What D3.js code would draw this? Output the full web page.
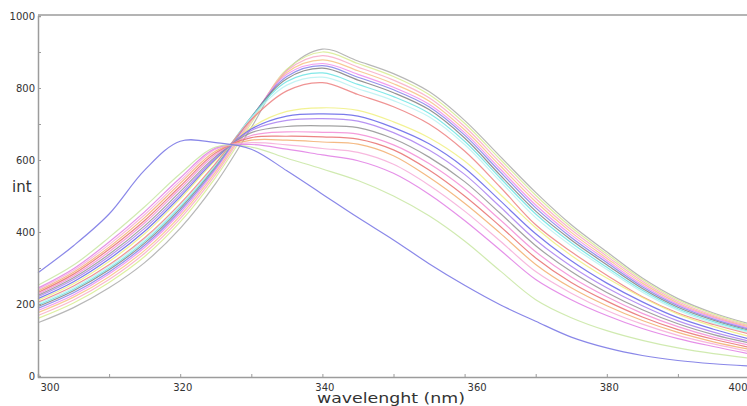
<!DOCTYPE html>
<html>
<head>
<meta charset="utf-8">
<script src="https://cdnjs.cloudflare.com/ajax/libs/d3/7.8.5/d3.min.js"></script>
<style>
  body { margin: 0; background: #fff; }
  svg { display: block; }
  .tick text { font-family: "DejaVu Sans", Verdana, sans-serif; font-size: 10px; fill: #333; }
  .axisText { font-family: "DejaVu Sans", Verdana, sans-serif; fill: #333; }
</style>
</head>
<body>
<div id="chart"></div>
<script>
// wavelengths (nm) sampled every 5 nm
var wavelengths = [300, 305, 310, 315, 320, 325, 330, 335, 340, 345, 350,
                   355, 360, 365, 370, 375, 380, 385, 390, 395, 400];

// intensity spectra, highest peak first
var sGray    = [148,190,245,315,410,535,690,850,908,875,840,790,710,610,510,420,345,272,215,175,145];
var sLime    = [160,203,260,332,428,552,702,852,900,868,832,782,702,602,502,413,339,268,211,172,142];
var sPink    = [168,211,268,341,437,560,708,848,890,858,822,773,693,593,493,406,333,263,207,168,139];
var sOrange  = [176,219,276,349,445,567,712,843,878,848,812,764,684,584,484,399,327,258,203,165,136];
var sMagenta = [182,225,283,357,452,573,716,838,868,838,802,755,676,575,475,392,321,253,199,162,133];
var sViolet  = [188,231,289,363,459,578,718,832,862,830,795,748,669,567,467,385,315,248,195,158,130];
var sDark    = [193,237,295,369,465,583,720,826,855,822,787,740,661,558,458,378,309,243,191,155,127];
var sCyan    = [197,241,299,374,470,586,719,818,842,810,776,730,652,550,450,370,302,238,187,151,124];
var sAqua    = [201,245,304,379,474,588,717,808,830,798,765,720,643,541,440,362,296,233,183,147,121];
var sRed     = [205,250,309,384,479,591,712,792,815,782,748,700,625,525,420,345,280,220,175,143,117];
var sYellow  = [210,256,318,395,492,600,690,735,745,738,706,662,597,505,412,335,272,218,172,138,110];
var sBlue    = [215,262,325,402,498,603,686,722,728,722,690,645,578,487,395,320,258,206,162,130,103];
var sPurple  = [220,268,332,410,505,607,682,710,715,708,676,628,560,470,378,305,245,195,153,122,97];
var sGray2   = [224,273,338,417,512,610,676,693,695,690,659,608,540,452,362,290,232,184,145,115,92];
var sPink2   = [228,278,345,425,520,615,668,678,677,672,642,590,520,434,345,275,220,174,137,108,86];
var sRed2    = [232,283,352,432,527,620,662,666,664,658,628,572,500,416,328,260,208,164,129,102,80];
var sOrange2 = [236,288,358,440,535,625,655,655,650,644,612,552,480,397,310,245,195,154,121,95,74];
var sRose    = [240,293,365,448,542,630,648,642,632,621,588,530,458,375,290,230,182,144,113,89,68];
var sOrchid  = [244,298,372,456,550,633,643,630,614,598,563,505,432,350,268,212,168,132,104,82,62];
var sGreen   = [252,308,385,470,562,636,636,605,575,543,500,445,375,292,212,162,126,99,78,62,50];
var sIndigo  = [287,362,450,572,652,648,630,570,505,440,378,312,252,198,152,108,78,57,43,34,28];

var series = [sGray, sLime, sPink, sOrange, sMagenta, sViolet, sDark, sCyan, sAqua, sRed,
              sYellow, sBlue, sPurple, sGray2, sPink2, sRed2, sOrange2, sRose, sOrchid, sGreen, sIndigo];

var colors = ["#aaaaaa", "#d8ec90", "#f8aac6", "#f6c284", "#f08cec", "#8280ea", "#808080",
              "#6ce4e4", "#b8f2f2", "#ec8080", "#f0f080", "#6464e8", "#aa80f0", "#929292",
              "#f28cd6", "#e86e6e", "#f2ae6e", "#f6acd8", "#e07ce4", "#c8e6a2", "#7472e4"];

var yTicks = [0, 100, 200, 300, 400, 500, 600, 700, 800, 900, 1000];
var xTicks = [300, 310, 320, 330, 340, 350, 360, 370, 380, 390, 400];

var svgWidth = 747;
var svgHeight = 406;

var svg = d3.select("#chart")
  .append("svg")
  .attr("width", svgWidth)
  .attr("height", svgHeight);

// scales
var xScale = d3.scaleLinear().domain([300, 400]).range([38, 749]);
var yScale = d3.scaleLinear().domain([0, 1000]).range([376, 16]);

// top frame line
svg.append("line")
  .attr("x1", 38).attr("x2", svgWidth)
  .attr("y1", 15).attr("y2", 15)
  .attr("stroke", "#b4b4b4")
  .attr("stroke-width", 2);

// spectra
var line = d3.line()
  .x(function(d, i) { return xScale(wavelengths[i]); })
  .y(function(d) { return yScale(d); })
  .curve(d3.curveCatmullRom);

svg.selectAll(".spectrum")
  .data(series)
  .enter()
  .append("path")
  .attr("class", "spectrum")
  .attr("d", line)
  .attr("fill", "none")
  .attr("stroke", function(d, i) { return colors[i]; })
  .attr("stroke-width", 1.2)
  .attr("opacity", 0.85);

// y axis
var yAxis = d3.axisLeft(yScale)
  .tickValues(yTicks)
  .tickSize(-3)
  .tickPadding(3)
  .tickFormat(function(d) { return d % 200 === 0 ? d : ""; });

var yG = svg.append("g")
  .attr("transform", "translate(38,0)")
  .call(yAxis);

// x axis
var xAxis = d3.axisBottom(xScale)
  .tickValues(xTicks)
  .tickSize(-3)
  .tickPadding(7)
  .tickFormat(function(d) { return d % 20 === 0 ? d : ""; });

var xG = svg.append("g")
  .attr("transform", "translate(0,377)")
  .call(xAxis);

[yG, xG].forEach(function(g) {
  g.select(".domain").attr("stroke", "#9c9c9c").attr("stroke-width", 1.5);
  g.selectAll(".tick line").attr("stroke", "#9c9c9c");
});

// nudge a few x labels like the original
xG.selectAll(".tick text")
  .attr("text-anchor", function(d) { return d === 300 ? "start" : (d === 400 ? "end" : "middle"); })
  .attr("dx", function(d) { return d === 360 ? 12 : (d === 400 ? -2 : 2); });

// axis labels
svg.append("text")
  .attr("class", "axisText")
  .attr("x", 12)
  .attr("y", 192)
  .attr("font-size", "15px")
  .text("int");

svg.append("text")
  .attr("class", "axisText")
  .attr("x", 317)
  .attr("y", 403)
  .attr("font-size", "14px")
  .attr("textLength", 148)
  .attr("lengthAdjust", "spacingAndGlyphs")
  .text("wavelenght (nm)");
</script>
</body>
</html>
